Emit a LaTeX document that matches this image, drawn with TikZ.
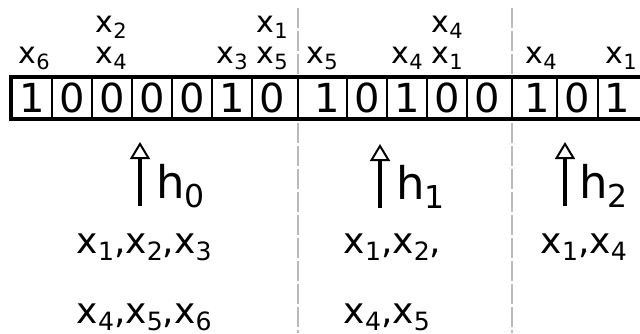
\documentclass[tikz,border=0pt]{standalone}
\usepackage{fontspec}
\setmainfont{DejaVu Sans}
\usetikzlibrary{arrows.meta}
\newcommand\sbx[1]{\raisebox{-0.2em}{\scalebox{0.7}{#1}}}
\newcommand\xv[1]{x\sbx{#1}}
\begin{document}
\begin{tikzpicture}[x=1pt,y=-1pt,
  bit/.style={font=\fontsize{40}{48}\selectfont, inner sep=0pt, anchor=base},
  lab/.style={font=\fontsize{30}{36}\selectfont, inner sep=0pt, anchor=base west},
  hlab/.style={font=\fontsize{45}{54}\selectfont, inner sep=0pt, anchor=base west},
  txt/.style={font=\fontsize{36}{43}\selectfont, inner sep=0pt, anchor=base west},
  sepline/.style={draw=black!27, line width=2pt, dash pattern=on 20pt off 3pt},
  divline/.style={line width=2pt},
  grpline/.style={line width=2.5pt},
  boxline/.style={line width=4pt},
  uparrow/.style={-{Triangle[open,length=17pt 0,width=20pt 0,line width=2pt]}, line width=3.8pt}]
\useasboundingbox (0,0) rectangle (640,333);
% group separators
\coordinate (s1t) at (298,8); \coordinate (s1b) at (298,333);
\coordinate (s2t) at (512,8); \coordinate (s2b) at (512,333);
\draw[sepline] (s1t) -- (s1b);
\draw[sepline] (s2t) -- (s2b);
% box
\coordinate (tr) at (640,77); \coordinate (tl) at (11,77);
\coordinate (bl) at (11,119); \coordinate (br) at (640,119);
\draw[boxline] (tr) -- (tl) -- (bl) -- (br);
\foreach \x in {52,92,132,172,212,252,347,387,427,467,557,598}
  \draw[divline] (\x,77) -- (\x,119);
\foreach \x in {298,512}
  \draw[grpline] (\x,77) -- (\x,119);
% bits
\node[bit] (b1) at (32,112) {1};
\node[bit] (b2) at (72,112) {0};
\node[bit] (b3) at (112,112) {0};
\node[bit] (b4) at (152,112) {0};
\node[bit] (b5) at (192,112) {0};
\node[bit] (b6) at (232,112) {1};
\node[bit] (b7) at (272,112) {0};
\node[bit] (b8) at (327,112) {1};
\node[bit] (b9) at (367,112) {0};
\node[bit] (b10) at (407,112) {1};
\node[bit] (b11) at (447,112) {0};
\node[bit] (b12) at (487,112) {0};
\node[bit] (b13) at (537,112) {1};
\node[bit] (b14) at (577,112) {0};
\node[bit] (b15) at (617,112) {1};
% labels above
\node[lab] (l1) at (18.5,63) {\xv{6}};
\node[lab] (l2) at (95.5,32) {\xv{2}};
\node[lab] (l3) at (95.5,63) {\xv{4}};
\node[lab] (l4) at (216.5,63) {\xv{3}};
\node[lab] (l5) at (256.5,32) {\xv{1}};
\node[lab] (l6) at (256.5,63) {\xv{5}};
\node[lab] (l7) at (306.5,63) {\xv{5}};
\node[lab] (l8) at (391.5,63) {\xv{4}};
\node[lab] (l9) at (431.5,32) {\xv{4}};
\node[lab] (l10) at (431.5,63) {\xv{1}};
\node[lab] (l11) at (525.5,63) {\xv{4}};
\node[lab] (l12) at (605.5,63) {\xv{1}};
% arrows and h labels
\coordinate (a0b) at (140,206); \coordinate (a0t) at (140,142);
\coordinate (a1b) at (380,208); \coordinate (a1t) at (380,144);
\coordinate (a2b) at (565,206); \coordinate (a2t) at (565,142);
\draw[uparrow] (a0b) -- (a0t);
\draw[uparrow] (a1b) -- (a1t);
\draw[uparrow] (a2b) -- (a2t);
\node[hlab] (h0) at (156,198) {h\sbx{0}};
\node[hlab] (h1) at (396,199) {h\sbx{1}};
\node[hlab] (h2) at (579,198) {h\sbx{2}};
% lower texts
\node[txt] (t1) at (76.5,253) {\xv{1},\xv{2},\xv{3}};
\node[txt] (t2) at (76.5,323) {\xv{4},\xv{5},\xv{6}};
\node[txt] (t3) at (343.5,253) {\xv{1},\xv{2},};
\node[txt] (t4) at (343.5,323) {\xv{4},\xv{5}};
\node[txt] (t5) at (540.5,253) {\xv{1},\xv{4}};
\end{tikzpicture}
\end{document}
